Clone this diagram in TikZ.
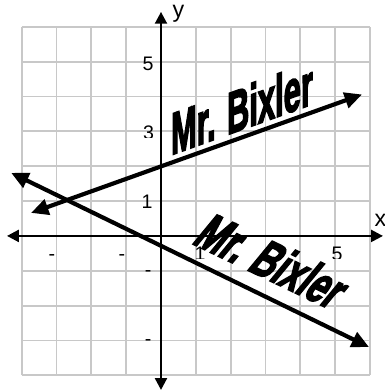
\documentclass[tikz,border=0pt]{standalone}
\usepackage{fontspec}
\setmainfont{Liberation Sans}
\newfontfamily\bixfont[BoldFeatures={FakeBold=3.5}]{Liberation Sans}
\usetikzlibrary{arrows.meta}
\definecolor{gridgray}{RGB}{200,200,200}
\tikzset{
  gridline/.style={draw=gridgray, line width=1.5pt},
  axisline/.style={line width=2pt, {Triangle[length=0.34cm,width=0.34cm]}-{Triangle[length=0.34cm,width=0.34cm]}},
  graphline/.style={line width=3.4pt, {Triangle[length=0.5cm,width=0.45cm]}-{Triangle[length=0.5cm,width=0.45cm]}},
  ticklabel/.style={font=\fontsize{16}{16}\selectfont, inner sep=0pt},
  axislabel/.style={font=\fontsize{19}{19}\selectfont, inner sep=0pt, anchor=base west},
  bixler/.style={inner sep=0pt, anchor=base west}
}
\begin{document}
\begin{tikzpicture}
\useasboundingbox (-4.62,-4.45) rectangle (6.40,6.77);
% grid
\draw[gridline] (-4,-4) grid (6,6);
% tick labels
\node[ticklabel] (y5) at (-0.37,4.94) {5};
\begin{scope}
  \clip (-1,2.82) rectangle (-0.05,3.6);
  \node[ticklabel] (y3) at (-0.36,2.96) {3};
\end{scope}
\node[ticklabel] (y1) at (-0.40,0.98) {1};
\node[ticklabel] (ym1) at (-0.37,-1.09) {-};
\node[ticklabel] (ym3) at (-0.37,-3.07) {-};
\node[ticklabel] (xm3) at (-3.13,-0.61) {-};
\node[ticklabel] (xm1) at (-1.12,-0.61) {-};
\begin{scope}
  \clip (0.5,-0.65) rectangle (5.6,-0.1);
  \node[ticklabel] (x1) at (1.12,-0.52) {1};
  \node[ticklabel] (x5) at (5.05,-0.52) {5};
\end{scope}
% axes
\coordinate (xl) at (-4.42,0);
\coordinate (xr) at (6.37,0);
\coordinate (yb) at (0,-4.42);
\coordinate (yt) at (0,6.43);
\draw[axisline] (xl) -- (xr);
\draw[axisline] (yb) -- (yt);
\node[axislabel] (ylab) at (0.33,6.28) {y};
\node[axislabel] (xlab) at (6.12,0.26) {x};
% graph lines
\coordinate (p1) at (-3.73,0.66);
\coordinate (p2) at (5.77,4.06);
\coordinate (q1) at (-4.30,1.81);
\coordinate (q2) at (5.97,-3.19);
\draw[graphline] (p1) -- (p2);
\draw[graphline] (q1) -- (q2);
% texts
\node[bixler, yslant=0.36] (b1) at (0.28,2.32)
  {\bixfont\bfseries\fontsize{26}{26}\selectfont\scalebox{0.97}[1.85]{Mr. Bixler}};
\node[bixler, rotate=-25.5, xslant=0.25] (b2) at (0.85,-0.20)
  {\bixfont\bfseries\fontsize{28}{28}\selectfont\scalebox{0.98}[1.55]{Mr. Bixler}};
\end{tikzpicture}
\end{document}
